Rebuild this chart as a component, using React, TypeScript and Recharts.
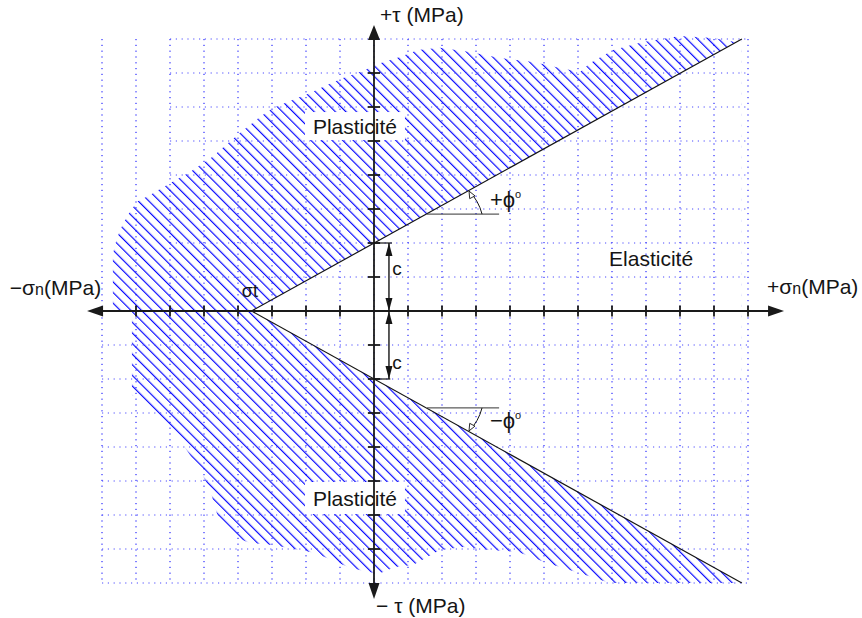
import React from 'react';
import { ComposedChart, Area, Line, XAxis, YAxis, ReferenceLine, ReferenceDot } from 'recharts';

// Mohr-Coulomb envelope (grid units, 1 unit = 1 grid cell)
const sigmaT = -3.6;
const cohesion = 2;
const envEndX = 10.82;
const envEndTau = 8;

const envX = [sigmaT, envEndX];
const envUpperTau = [0, envEndTau];
const envLowerTau = [0, -envEndTau];

// upper plastic zone outline (top edge)
const upperPlasticX = [-7.68, -7.62, -7.47, -7.24, -6.97, -6.59, -6.0, -5.41, -4.76, -3.94, -3.35, -2.97, -2.38, -1.88, -1.38, -0.91, -0.41, 0.18, 0.76, 1.29, 1.94, 2.82, 3.71, 4.68, 5.47, 6.06, 6.35, 7.03, 7.91, 9.0, 9.97, 10.62, 10.82];
const upperPlasticTau = [1.65, 1.94, 2.38, 2.82, 3.21, 3.41, 3.76, 4.09, 4.53, 5.24, 5.71, 5.97, 6.21, 6.41, 6.65, 6.85, 7.03, 7.29, 7.47, 7.68, 7.74, 7.62, 7.44, 7.32, 7.15, 7.03, 7.29, 7.68, 7.91, 8.09, 8.03, 7.91, 8.0];

// lower plastic zone outline (bottom edge)
const lowerPlasticX = [-7.12, -6.88, -6.21, -5.71, -5.12, -4.82, -4.68, -4.53, -4.09, -3.65, -3.0, -2.18, -1.74, -1.24, -0.76, -0.21, 0.18, 0.62, 1.15, 1.94, 2.62, 3.41, 4.24, 5.09, 6.06, 6.94, 10.82];
const lowerPlasticTau = [-2.47, -2.62, -3.26, -3.79, -4.68, -5.26, -5.76, -6.24, -6.65, -6.82, -6.88, -7.03, -7.12, -7.32, -7.53, -7.68, -7.71, -7.53, -7.47, -7.03, -6.94, -7.03, -7.09, -7.41, -7.71, -8.0, -8.0];

// grid and ticks
const gridX = [-8, -7, -6, -5, -4, -3, -2, -1, 0, 1, 2, 3, 4, 5, 6, 7, 8, 9, 10, 11];
const gridY = [-8, -7, -6, -5, -4, -3, -2, -1, 0, 1, 2, 3, 4, 5, 6, 7, 8];
const xTicks = [-7, -6, -5, -4, -3, -2, -1, 1, 2, 3, 4, 5, 6, 7, 8, 9, 10, 11];
const yTicks = [-7, -6, -5, -4, -3, -2, -1, 1, 2, 3, 4, 5, 6, 7];

// axis extents
const xAxisTips = [-8.44, 12.06];
const yAxisTips = [-8.47, 8.41];

// annotations
const cArrowX = 0.44;
const phiVertexX = 1.56;
const phiVertexTau = 2.85;
const phiLineEndX = 3.68;

const upperData = upperPlasticX.map((x, i) => ({ x, y: upperPlasticTau[i] }));
const lowerData = lowerPlasticX.map((x, i) => ({ x, y: lowerPlasticTau[i] }));
const upperEnv = envX.map((x, i) => ({ x, y: envUpperTau[i] }));
const lowerEnv = envX.map((x, i) => ({ x, y: envLowerTau[i] }));
const wedge = envX.map((x, i) => ({ x, range: [envLowerTau[i], envUpperTau[i]] }));

const FONT = '"Liberation Sans", Arial, Helvetica, sans-serif';
const INK = '#151515';
const AXIS = '#1a1a1a';

const arrow = (dx: number, dy: number, len: number, half: number, fill = AXIS, stroke = 'none') => (p: any) => {
  const { cx, cy } = p;
  const bx = cx - dx * len;
  const by = cy - dy * len;
  const nx = -dy;
  const ny = dx;
  return (
    <polygon
      points={`${cx},${cy} ${bx + nx * half},${by + ny * half} ${bx - nx * half},${by - ny * half}`}
      fill={fill}
      stroke={stroke}
      strokeWidth={1}
    />
  );
};

const textShape = (content: React.ReactNode, anchor: 'start' | 'middle' | 'end', size: number, box?: { w: number; h: number }) => (p: any) => (
  <g>
    {box && <rect x={p.cx - box.w / 2} y={p.cy - box.h / 2} width={box.w} height={box.h} fill="#ffffff" />}
    <text x={p.cx} y={p.cy + size * 0.36} textAnchor={anchor} fontSize={size} fontFamily={FONT} fill={INK}>
      {content}
    </text>
  </g>
);

const arcShape = (down: boolean) => (p: any) => {
  const { cx, cy } = p;
  const s = down ? 1 : -1;
  const ex = cx + 42;
  const ey = cy + s * 23;
  const dx = -0.47;
  const dy = s * 0.88;
  const len = 7;
  const half = 3;
  const bx = ex - dx * len;
  const by = ey - dy * len;
  return (
    <g>
      <path d={`M ${cx + 55} ${cy} A 50 50 0 0 ${down ? 1 : 0} ${ex} ${ey}`} fill="none" stroke={INK} strokeWidth={1} />
      <polygon points={`${ex},${ey} ${bx - dy * half},${by + dx * half} ${bx + dy * half},${by - dx * half}`} fill="#fff" stroke={INK} strokeWidth={0.9} />
    </g>
  );
};

export default function App() {
  return (
    <div style={{ position: 'absolute', left: 0, top: 0, background: '#fff' }}>
      <ComposedChart width={862} height={618} margin={{ top: 5, right: 12, bottom: 1, left: 0 }}>
        <defs>
          <pattern id="hatch" patternUnits="userSpaceOnUse" width="7.5" height="7.5" patternTransform="rotate(-45)">
            <line x1="0.6" y1="-1" x2="0.6" y2="8.5" stroke="#0000ff" strokeWidth="1.15" />
          </pattern>
        </defs>
        <XAxis type="number" dataKey="x" domain={[-11, 14]} allowDataOverflow hide />
        <YAxis type="number" domain={[-9, 9]} allowDataOverflow hide />

        <Area data={upperData} dataKey="y" type="linear" baseValue={0} fill="url(#hatch)" fillOpacity={1} stroke="none" isAnimationActive={false} zIndex={100} />
        <Area data={lowerData} dataKey="y" type="linear" baseValue={0} fill="url(#hatch)" fillOpacity={1} stroke="none" isAnimationActive={false} zIndex={100} />
        <Area data={wedge} dataKey="range" type="linear" fill="#ffffff" fillOpacity={1} stroke="none" isAnimationActive={false} zIndex={110} />

        {gridX.map((gx) => (
          <ReferenceLine key={'gx' + gx} segment={[{ x: gx, y: 8 }, { x: gx, y: -8 }]} stroke="#0000ff" strokeWidth={1} strokeDasharray="1.2 4.6" zIndex={200} />
        ))}
        {gridY.map((gy) => (
          <ReferenceLine key={'gy' + gy} segment={[{ x: gy > 0 ? -6 : -8, y: gy }, { x: 11, y: gy }]} stroke="#4b4bff" strokeWidth={1} strokeDasharray="1.2 4.6" zIndex={200} />
        ))}

        <ReferenceDot x={-0.56} y={5.44} r={0} ifOverflow="visible" zIndex={250} shape={textShape('Plasticité', 'middle', 21, { w: 100, h: 28 })} />
        <ReferenceDot x={-0.56} y={-5.5} r={0} ifOverflow="visible" zIndex={250} shape={textShape('Plasticité', 'middle', 21, { w: 100, h: 32 })} />

        <Line data={upperEnv} dataKey="y" type="linear" stroke={INK} strokeWidth={1.2} dot={false} isAnimationActive={false} zIndex={300} />
        <Line data={lowerEnv} dataKey="y" type="linear" stroke={INK} strokeWidth={1.2} dot={false} isAnimationActive={false} zIndex={300} />

        {/* phi annotations */}
        <ReferenceLine segment={[{ x: phiVertexX, y: phiVertexTau }, { x: phiLineEndX, y: phiVertexTau }]} stroke="#333" strokeWidth={1} zIndex={300} />
        <ReferenceLine segment={[{ x: phiVertexX, y: -phiVertexTau }, { x: phiLineEndX, y: -phiVertexTau }]} stroke="#333" strokeWidth={1} zIndex={300} />
        <ReferenceDot x={phiVertexX} y={phiVertexTau} r={0} ifOverflow="visible" zIndex={300} shape={arcShape(false)} />
        <ReferenceDot x={phiVertexX} y={-phiVertexTau} r={0} ifOverflow="visible" zIndex={300} shape={arcShape(true)} />

        {/* axes */}
        <ReferenceLine segment={[{ x: xAxisTips[0] + 0.3, y: 0 }, { x: xAxisTips[1] - 0.3, y: 0 }]} stroke={AXIS} strokeWidth={1.8} zIndex={400} />
        <ReferenceLine segment={[{ x: 0, y: yAxisTips[0] + 0.3 }, { x: 0, y: yAxisTips[1] - 0.3 }]} stroke={AXIS} strokeWidth={1.8} zIndex={400} />
        <ReferenceDot x={xAxisTips[0]} y={0} r={0} ifOverflow="visible" zIndex={400} shape={arrow(-1, 0, 16, 5.5)} />
        <ReferenceDot x={xAxisTips[1]} y={0} r={0} ifOverflow="visible" zIndex={400} shape={arrow(1, 0, 16, 5.5)} />
        <ReferenceDot x={0} y={yAxisTips[1]} r={0} ifOverflow="visible" zIndex={400} shape={arrow(0, -1, 15, 6)} />
        <ReferenceDot x={0} y={yAxisTips[0]} r={0} ifOverflow="visible" zIndex={400} shape={arrow(0, 1, 16, 5.5)} />
        {xTicks.map((t) => (
          <ReferenceLine key={'xt' + t} segment={[{ x: t, y: -0.16 }, { x: t, y: 0.16 }]} stroke={AXIS} strokeWidth={1.8} zIndex={400} />
        ))}
        {yTicks.map((t) => (
          <ReferenceLine key={'yt' + t} segment={[{ x: -0.18, y: t }, { x: 0.18, y: t }]} stroke={AXIS} strokeWidth={1.8} zIndex={400} />
        ))}

        {/* cohesion dimension arrows */}
        <ReferenceLine segment={[{ x: 0, y: cohesion }, { x: 0.53, y: cohesion }]} stroke={INK} strokeWidth={1.2} zIndex={400} />
        <ReferenceLine segment={[{ x: 0, y: -cohesion }, { x: 0.48, y: -cohesion }]} stroke={INK} strokeWidth={1.2} zIndex={400} />
        <ReferenceLine segment={[{ x: cArrowX, y: 0 }, { x: cArrowX, y: cohesion }]} stroke={INK} strokeWidth={1.4} zIndex={400} />
        <ReferenceLine segment={[{ x: cArrowX, y: 0 }, { x: cArrowX, y: -cohesion }]} stroke={INK} strokeWidth={1.4} zIndex={400} />
        <ReferenceDot x={cArrowX} y={cohesion} r={0} ifOverflow="visible" zIndex={400} shape={arrow(0, -1, 13, 3.5, INK)} />
        <ReferenceDot x={cArrowX} y={0} r={0} ifOverflow="visible" zIndex={400} shape={arrow(0, 1, 13, 3.5, INK)} />
        <ReferenceDot x={cArrowX} y={0} r={0} ifOverflow="visible" zIndex={400} shape={arrow(0, -1, 13, 3.5, INK)} />
        <ReferenceDot x={cArrowX} y={-cohesion} r={0} ifOverflow="visible" zIndex={400} shape={arrow(0, 1, 13, 3.5, INK)} />

        {/* labels */}
        <ReferenceDot x={0.18} y={8.71} r={0} ifOverflow="visible" zIndex={500} shape={textShape(<>+τ (MPa)</>, 'start', 21)} />
        <ReferenceDot x={0.06} y={-8.65} r={0} ifOverflow="visible" zIndex={500} shape={textShape(<>− τ (MPa)</>, 'start', 21)} />
        <ReferenceDot x={-10.71} y={0.68} r={0} ifOverflow="visible" zIndex={500} shape={textShape(<>−σ<tspan fontSize={16}>n</tspan>(MPa)</>, 'start', 21)} />
        <ReferenceDot x={11.56} y={0.71} r={0} ifOverflow="visible" zIndex={500} shape={textShape(<>+σ<tspan fontSize={16}>n</tspan>(MPa)</>, 'start', 21)} />
        <ReferenceDot x={-3.65} y={0.59} r={0} ifOverflow="visible" zIndex={500} shape={textShape(<>σt</>, 'middle', 18)} />
        <ReferenceDot x={0.68} y={1.26} r={0} ifOverflow="visible" zIndex={500} shape={textShape('c', 'middle', 19)} />
        <ReferenceDot x={0.68} y={-1.5} r={0} ifOverflow="visible" zIndex={500} shape={textShape('c', 'middle', 19)} />
        <ReferenceDot x={8.15} y={1.56} r={0} ifOverflow="visible" zIndex={500} shape={textShape('Elasticité', 'middle', 21)} />
        <ReferenceDot x={3.41} y={3.29} r={0} ifOverflow="visible" zIndex={500} shape={textShape(<>+ϕ<tspan fontSize={11} dy={-9}>o</tspan></>, 'start', 22)} />
        <ReferenceDot x={3.41} y={-3.21} r={0} ifOverflow="visible" zIndex={500} shape={textShape(<>−ϕ<tspan fontSize={11} dy={-9}>o</tspan></>, 'start', 22)} />
      </ComposedChart>
    </div>
  );
}
